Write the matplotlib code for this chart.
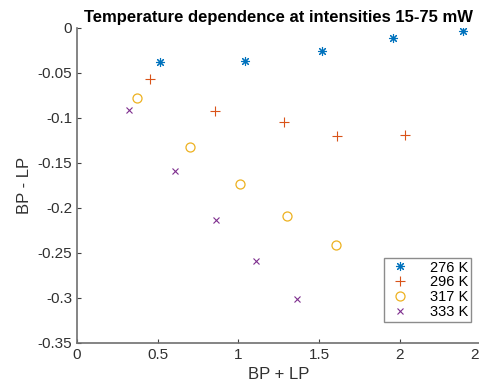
import matplotlib
matplotlib.use("Agg")
import matplotlib.pyplot as plt
from matplotlib.ticker import FuncFormatter

plt.rcParams['font.family'] = ['Liberation Sans', 'DejaVu Sans']
plt.rcParams['axes.unicode_minus'] = False

labels = ['276 K', '296 K', '317 K', '333 K']
x276 = [0.515, 1.04, 1.52, 1.955, 2.39]
y276 = [-0.038, -0.037, -0.0255, -0.0118, -0.0037]
x296 = [0.453, 0.857, 1.284, 1.613, 2.033]
y296 = [-0.0566, -0.0926, -0.105, -0.120, -0.119]
x317 = [0.372, 0.702, 1.008, 1.304, 1.607]
y317 = [-0.0785, -0.1326, -0.1737, -0.209, -0.2414]
x333 = [0.325, 0.609, 0.863, 1.11, 1.364]
y333 = [-0.0918, -0.159, -0.214, -0.259, -0.3014]

xs = [x276, x296, x317, x333]
ys = [y276, y296, y317, y333]
markers = [(8, 2, 0), '+', 'o', 'x']
colors = ['#0072BD', '#D95319', '#EDB120', '#7E2F8E']
sizes = [6.5, 7, 6.5, 4.5]

xticks = [0, 0.5, 1, 1.5, 2, 2.5]
yticks = [0, -0.05, -0.1, -0.15, -0.2, -0.25, -0.3, -0.35]

fig = plt.figure(figsize=(4.79, 3.88), dpi=100)
ax = fig.add_axes([77/479, 1-343/388, (480.5-77)/479, (343-27.7)/388])

for x, y, m, c, s, l in zip(xs, ys, markers, colors, sizes, labels):
    if m == 'o':
        ax.plot(x, y, linestyle='none', marker=m, markersize=s, markerfacecolor='none',
                markeredgecolor=c, markeredgewidth=0.9, label=l)
    else:
        ax.plot(x, y, linestyle='none', marker=m, markersize=s, color=c,
                markeredgewidth=0.8, label=l)

ax.set_xlim(0, 2.5)
ax.set_ylim(-0.35, 0)
ax.set_xticks(xticks)
ax.set_yticks(yticks)
ax.xaxis.set_major_formatter(FuncFormatter(lambda v, p: '%g' % v))
ax.yaxis.set_major_formatter(FuncFormatter(lambda v, p: '%g' % v))
ax.tick_params(direction='in', length=3, width=0.8, colors='#404040', labelsize=11,
               labelcolor='#303030')
for s in ['top', 'right']:
    ax.spines[s].set_visible(False)
for s in ['left', 'bottom']:
    ax.spines[s].set_color('#707070')
    ax.spines[s].set_linewidth(1.2)

ax.set_xlabel('BP + LP', fontsize=12, color='#303030', labelpad=4)
ax.set_ylabel('BP - LP', fontsize=12, color='#303030', labelpad=4)
ax.set_title('Temperature dependence at intensities 15-75 mW', fontsize=12,
             fontweight='bold', color='black', pad=4)

leg = ax.legend(loc='lower right', bbox_to_anchor=(470.7/479, 1-321.7/388),
                bbox_transform=fig.transFigure, fontsize=10.5, frameon=True,
                fancybox=False, edgecolor='#707070', borderpad=0.2,
                handletextpad=1.1, labelspacing=0.05, handlelength=1.8,
                borderaxespad=0)
leg.get_frame().set_linewidth(1.0)

fig.savefig('out.png', dpi=100)
